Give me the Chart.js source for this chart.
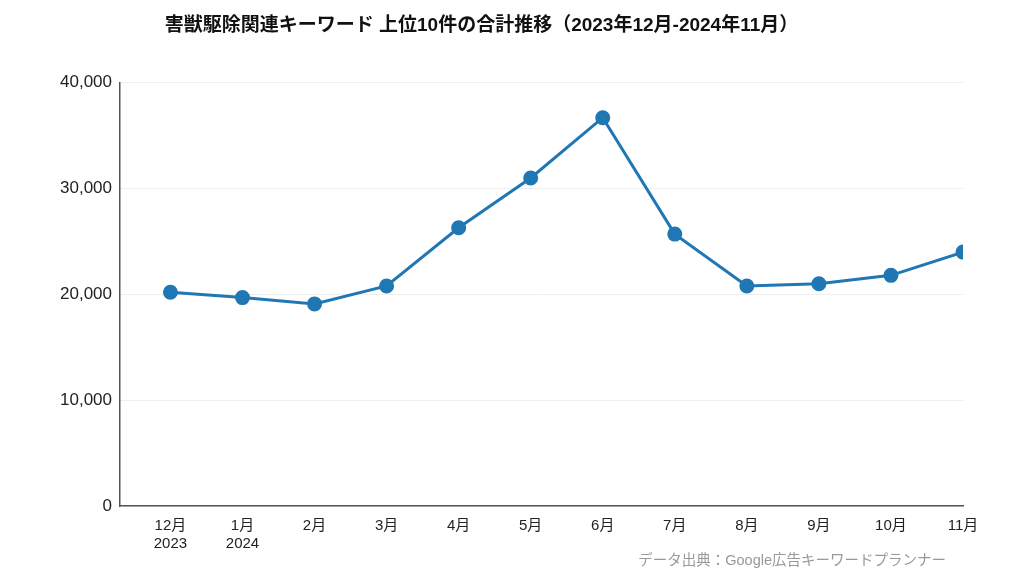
<!DOCTYPE html>
<html><head><meta charset="utf-8">
<script src="https://cdn.jsdelivr.net/npm/chart.js@4.4.0/dist/chart.umd.min.js"></script>
<style>
body{margin:0;background:#fff;font-family:"Liberation Sans","Noto Sans CJK JP",sans-serif;}
#wrap{position:relative;width:1024px;height:576px;}
#src{position:absolute;right:78px;top:548px;font-size:14.5px;color:#999;}
</style></head>
<body><div id="wrap"><canvas id="c" width="1024" height="576"></canvas>
<div id="src">データ出典：Google広告キーワードプランナー</div></div>
<script>
// months Dec 2023 – Nov 2024
const months = ['12月', '1月', '2月', '3月', '4月', '5月', '6月', '7月', '8月', '9月', '10月', '11月'];
const years  = ['2023', '2024', '', '', '', '', '', '', '', '', '', ''];
const totals = [20200, 19700, 19100, 20800, 26300, 31000, 36700, 25700, 20800, 21000, 21800, 24000];

const pts = totals.map((v, i) => ({ x: i, y: v }));
const font = '"Liberation Sans", "Noto Sans CJK JP", sans-serif';

new Chart(document.getElementById('c'), {
  type: 'line',
  data: { datasets: [{
    data: pts,
    borderColor: '#1f77b4', backgroundColor: '#1f77b4',
    borderWidth: 3, pointRadius: 6, pointHoverRadius: 6, tension: 0
  }]},
  options: {
    responsive: false, animation: false,
    layout: { padding: { top: 8, right: 61, bottom: 20, left: 0 } },
    plugins: {
      legend: { display: false },
      title: { display: true, text: '害獣駆除関連キーワード 上位10件の合計推移（2023年12月-2024年11月）',
        color: '#111', font: { family: font, size: 19, weight: 'bold' }, padding: { top: 6, bottom: 46 } }
    },
    scales: {
      x: { type: 'linear', min: -0.7, max: 11,
        grid: { display: false },
        border: { color: '#555', width: 1.5 },
        afterBuildTicks: ax => { ax.ticks = months.map((m, i) => ({ value: i })); },
        ticks: { color: '#222', font: { family: font, size: 15 }, autoSkip: false, maxRotation: 0,
          callback: v => years[v] ? [months[v], years[v]] : months[v] } },
      y: { min: 0, max: 40000,
        afterFit: ax => { ax.width = 120; },
        grid: { color: '#eee', drawTicks: false },
        border: { color: '#555', width: 1.5 },
        ticks: { stepSize: 10000, padding: 8, color: '#222', font: { family: font, size: 17 },
          callback: v => v.toLocaleString('en-US') } }
    }
  }
});
</script></body></html>
